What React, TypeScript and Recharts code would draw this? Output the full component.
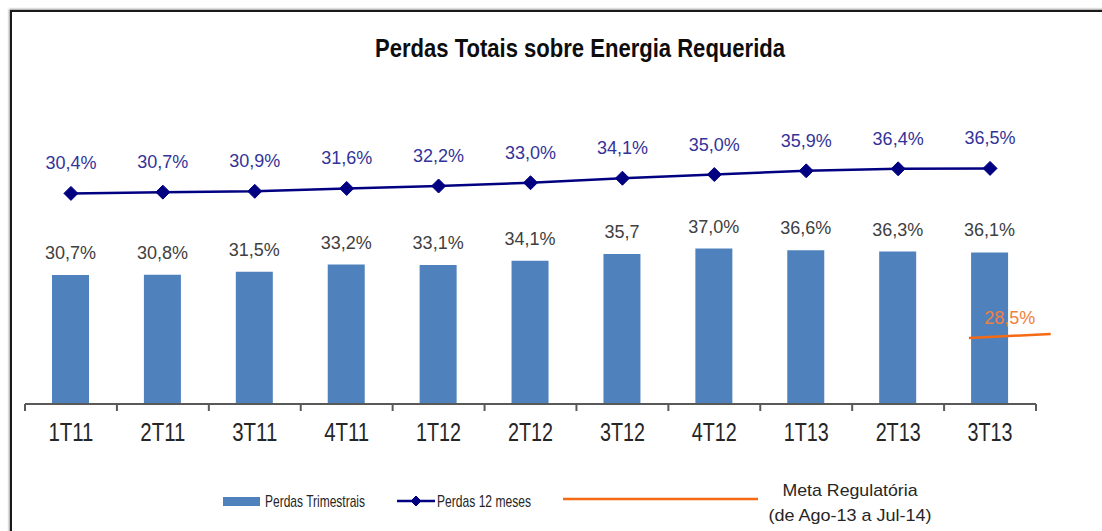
import {
  ComposedChart,
  Bar,
  Line,
  XAxis,
  YAxis,
  LabelList,
  ReferenceLine,
} from 'recharts'

const quarters = ['1T11', '2T11', '3T11', '4T11', '1T12', '2T12', '3T12', '4T12', '1T13', '2T13', '3T13']
const perdasTrimestrais = [30.7, 30.8, 31.5, 33.2, 33.1, 34.1, 35.7, 37.0, 36.6, 36.3, 36.1]
const perdas12Meses = [30.4, 30.7, 30.9, 31.6, 32.2, 33.0, 34.1, 35.0, 35.9, 36.4, 36.5]
// the source prints 3T12 without the percent sign
const barLabels = ['30,7%', '30,8%', '31,5%', '33,2%', '33,1%', '34,1%', '35,7', '37,0%', '36,6%', '36,3%', '36,1%']
const metaRegulatoria = 28.5
// hand-drawn target stroke next to 3T13 (slightly tilted in the source)
const metaSegX = [10.27, 11.16]
const metaSegY = [27.5, 29.2]

const NARROW = "'Liberation Sans Narrow', 'Arial Narrow', 'Liberation Sans', Arial, sans-serif"
const SANS = "'Liberation Sans', Arial, sans-serif"
const BLUE = '#4F81BD'
const NAVY = '#000080'
const ORANGE = '#F56A12'
const AXIS = '#595959'

const pct = (v: number) => v.toFixed(1).replace('.', ',') + '%'

const data = quarters.map((q, i) => ({
  q,
  pos: i + 0.5,
  trimestral: perdasTrimestrais[i],
  doze: perdas12Meses[i],
  label: barLabels[i],
}))

function Diamond({ cx, cy, r = 7 }: { cx?: number; cy?: number; r?: number }) {
  if (cx == null || cy == null) return null
  return (
    <polygon
      points={`${cx},${cy - r} ${cx + r},${cy} ${cx},${cy + r} ${cx - r},${cy}`}
      fill={NAVY}
      stroke={NAVY}
    />
  )
}

// quarter labels are tall and condensed in the source; tick marks sit between categories
function QuarterTick({ x, y, payload, index }: any) {
  const half = payload.offset || 1011 / quarters.length / 2
  const last = index === quarters.length - 1
  return (
    <g>
      <line x1={x - half} y1={y} x2={x - half} y2={y + 7} stroke={AXIS} strokeWidth={2} />
      {last && <line x1={x + half} y1={y} x2={x + half} y2={y + 7} stroke={AXIS} strokeWidth={2} />}
      <text
        x={x}
        y={y + 19}
        dy="0.71em"
        textAnchor="middle"
        fontFamily={SANS}
        fontSize={25}
        fill="#262626"
        textLength={45}
        lengthAdjust="spacingAndGlyphs"
      >
        {payload.value}
      </text>
    </g>
  )
}

export default function App() {
  return (
    <div style={{ position: 'absolute', left: 0, top: 0, width: 1102, height: 531, background: '#fff', overflow: 'hidden' }}>
      <div
        style={{
          position: 'absolute',
          left: 10,
          top: 10,
          width: 1110,
          height: 540,
          borderLeft: '2px solid #1a1a1a',
          borderTop: '2px solid #1a1a1a',
          boxShadow: '-1px -1px 2px #999',
        }}
      />
      <div style={{ position: 'absolute', left: 0, top: 0 }}>
        <ComposedChart
          width={1102}
          height={531}
          data={data}
          margin={{ top: 68, right: 66, bottom: 87, left: 25 }}
        >
          <XAxis
            dataKey="q"
            axisLine={{ stroke: AXIS, strokeWidth: 2 }}
            tickLine={false}
            tickSize={0}
            tickMargin={0}
            interval={0}
            height={40}
            tick={<QuarterTick />}
          />
          <XAxis
            xAxisId="num"
            dataKey="pos"
            type="number"
            domain={[0, quarters.length]}
            allowDataOverflow
            hide
          />
          <YAxis yAxisId="bars" hide domain={[0, 80]} />
          <YAxis yAxisId="line" hide domain={[-21, 61]} />
          <YAxis yAxisId="meta" hide type="number" domain={[0, 140]} allowDataOverflow />
          <Bar yAxisId="bars" dataKey="trimestral" fill={BLUE} barSize={37} isAnimationActive={false}>
            <LabelList
              dataKey="label"
              position="top"
              offset={16}
              style={{ fill: '#404040', fontSize: 18, fontFamily: SANS }}
            />
          </Bar>
          <Line
            yAxisId="line"
            dataKey="doze"
            stroke={NAVY}
            strokeWidth={2.5}
            dot={(p: any) => <Diamond key={p.index} cx={p.cx} cy={p.cy} />}
            isAnimationActive={false}
          >
            <LabelList
              dataKey="doze"
              position="top"
              offset={24}
              formatter={(v: any) => pct(Number(v))}
              style={{ fill: '#333399', fontSize: 18, fontFamily: SANS }}
            />
          </Line>
          <ReferenceLine
            xAxisId="num"
            yAxisId="meta"
            ifOverflow="visible"
            segment={[
              { x: metaSegX[0], y: metaSegY[0] },
              { x: metaSegX[1], y: metaSegY[1] },
            ]}
            stroke={ORANGE}
            strokeWidth={2.5}
            label={{
              value: pct(metaRegulatoria),
              position: 'top',
              offset: 10,
              fill: '#F0803C',
              fontSize: 18,
              fontFamily: SANS,
            }}
          />
        </ComposedChart>
      </div>
      <svg width={1102} height={531} style={{ position: 'absolute', left: 0, top: 0, pointerEvents: 'none' }}>
        <text
          x={580}
          y={57}
          textAnchor="middle"
          fontFamily={NARROW}
          fontWeight="bold"
          fontSize={25}
          fill="#0d0d0d"
          textLength={410}
          lengthAdjust="spacingAndGlyphs"
        >
          Perdas Totais sobre Energia Requerida
        </text>
        <rect x={223} y={497} width={37} height={9} fill={BLUE} />
        <text x={265} y={507} fontFamily={NARROW} fontSize={17} fill="#262626" textLength={100} lengthAdjust="spacingAndGlyphs">
          Perdas Trimestrais
        </text>
        <line x1={397} y1={501} x2={435} y2={501} stroke={NAVY} strokeWidth={2.5} />
        <Diamond cx={416} cy={501} r={5} />
        <text x={437} y={507} fontFamily={NARROW} fontSize={17} fill="#262626" textLength={94} lengthAdjust="spacingAndGlyphs">
          Perdas 12 meses
        </text>
        <line x1={563} y1={499} x2={758} y2={499} stroke={ORANGE} strokeWidth={2.5} />
        <text x={850} y={496} textAnchor="middle" fontFamily={NARROW} fontSize={17} fill="#262626" textLength={135} lengthAdjust="spacingAndGlyphs">
          Meta Regulatória
        </text>
        <text x={850} y={521} textAnchor="middle" fontFamily={NARROW} fontSize={17} fill="#262626" textLength={163} lengthAdjust="spacingAndGlyphs">
          (de Ago-13 a Jul-14)
        </text>
      </svg>
    </div>
  )
}
